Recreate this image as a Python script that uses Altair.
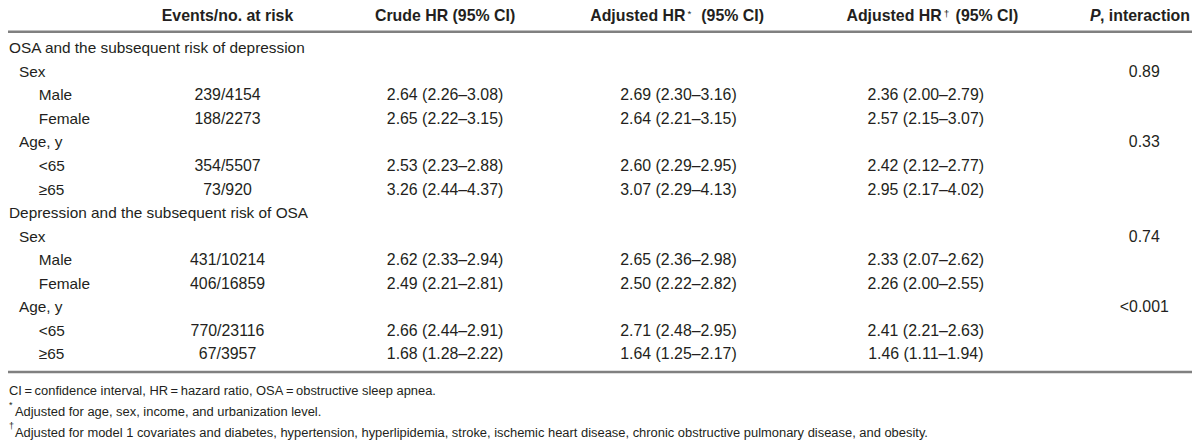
import altair as alt
import pandas as pd

# ---------------- data ----------------
row_labels = ["OSA and the subsequent risk of depression", "Sex", "Male", "Female", "Age, y", "<65", "≥65",
              "Depression and the subsequent risk of OSA", "Sex", "Male", "Female", "Age, y", "<65", "≥65"]
row_levels = [0, 1, 2, 2, 1, 2, 2, 0, 1, 2, 2, 1, 2, 2]
events = ["", "", "239/4154", "188/2273", "", "354/5507", "73/920",
          "", "", "431/10214", "406/16859", "", "770/23116", "67/3957"]
crude = ["", "", "2.64 (2.26–3.08)", "2.65 (2.22–3.15)", "", "2.53 (2.23–2.88)", "3.26 (2.44–4.37)",
         "", "", "2.62 (2.33–2.94)", "2.49 (2.21–2.81)", "", "2.66 (2.44–2.91)", "1.68 (1.28–2.22)"]
adj1 = ["", "", "2.69 (2.30–3.16)", "2.64 (2.21–3.15)", "", "2.60 (2.29–2.95)", "3.07 (2.29–4.13)",
        "", "", "2.65 (2.36–2.98)", "2.50 (2.22–2.82)", "", "2.71 (2.48–2.95)", "1.64 (1.25–2.17)"]
adj2 = ["", "", "2.36 (2.00–2.79)", "2.57 (2.15–3.07)", "", "2.42 (2.12–2.77)", "2.95 (2.17–4.02)",
        "", "", "2.33 (2.07–2.62)", "2.26 (2.00–2.55)", "", "2.41 (2.21–2.63)", "1.46 (1.11–1.94)"]
p_int = ["", "0.89", "", "", "0.33", "", "", "", "0.74", "", "", "<0.001", "", ""]

header_plain = ["Events/no. at risk", "Crude HR (95% CI)"]
header_adj_main = ["Adjusted HR", "Adjusted HR"]
header_adj_mark = ["*", "†"]
header_adj_tail = ["(95% CI)", "(95% CI)"]
header_p = ["P", ", interaction"]

footnotes = ["CI\u2009=\u2009confidence interval, HR\u2009=\u2009hazard ratio, OSA\u2009=\u2009obstructive sleep apnea.",
             "Adjusted for age, sex, income, and urbanization level.",
             "Adjusted for model 1 covariates and diabetes, hypertension, hyperlipidemia, stroke, ischemic heart disease, chronic obstructive pulmonary disease, and obesity."]
footnote_marks = ["", "*", "†"]

# ---------------- layout ----------------
FONT = "Liberation Sans"
TXT = "#231f20"
LINE = "#808080"
W, H = 1192, 436
xs = alt.Scale(domain=[8, 8 + W], range=[0, W])
ys = alt.Scale(domain=[8, 8 + H], range=[0, H])

col_x = [229, 448, 683, 932, 1152]
indent_x = [9, 19, 39]
row_y = [47 + 23.72 * i for i in range(len(row_labels))]
header_y = 15
foot_y = [392, 413, 434]

labels_df = pd.DataFrame({"x": [indent_x[l] for l in row_levels], "y": row_y, "t": row_labels})
cells = []
for ci, col in enumerate([events, crude, adj1, adj2, p_int]):
    for ri, v in enumerate(col):
        if v:
            cells.append({"x": col_x[ci], "y": row_y[ri], "t": v})
cells_df = pd.DataFrame(cells)


def txt(df, **kw):
    base = dict(font=FONT, color=TXT, baseline="middle")
    base.update(kw)
    return alt.Chart(df).mark_text(**base).encode(
        x=alt.X("x:Q", scale=xs, axis=None),
        y=alt.Y("y:Q", scale=ys, axis=None),
        text="t:N",
    )


labels = txt(labels_df, align="left", fontSize=15.5)
cells_layer = txt(cells_df, align="center", fontSize=16)

hdr_plain = txt(pd.DataFrame({"x": col_x[:2], "y": [header_y] * 2, "t": header_plain}),
                align="center", fontSize=16, fontWeight="bold")
hdr_main = txt(pd.DataFrame({"x": [690, 948], "y": [header_y] * 2, "t": header_adj_main}),
               align="right", fontSize=16, fontWeight="bold")
hdr_mark = txt(pd.DataFrame({"x": [692, 950], "y": [15.5] * 2, "t": header_adj_mark}),
               align="left", fontSize=10, fontWeight="normal", baseline="alphabetic")
hdr_tail = txt(pd.DataFrame({"x": [706, 962], "y": [header_y] * 2, "t": header_adj_tail}),
               align="left", fontSize=16, fontWeight="bold")
hdr_p1 = txt(pd.DataFrame({"x": [1108], "y": [header_y], "t": [header_p[0]]}),
             align="right", fontSize=16, fontWeight="bold", fontStyle="italic")
hdr_p2 = txt(pd.DataFrame({"x": [1198], "y": [header_y], "t": [header_p[1]]}),
             align="right", fontSize=16, fontWeight="bold")

foot_text = txt(pd.DataFrame({"x": [9, 15, 15], "y": foot_y, "t": footnotes}),
                align="left", fontSize=13)
foot_mark = txt(pd.DataFrame({"x": [9, 9], "y": [foot_y[1] - 7, foot_y[2] - 7], "t": footnote_marks[1:]}),
                align="left", fontSize=9)

rules_df = pd.DataFrame({"y": [30.5, 373]})
rules = alt.Chart(rules_df).mark_rule(color=LINE, strokeWidth=2.5).encode(
    y=alt.Y("y:Q", scale=ys, axis=None),
    x=alt.value(0),
    x2=alt.value(W),
)

chart = alt.layer(
    rules, labels, cells_layer, hdr_plain, hdr_main, hdr_mark, hdr_tail, hdr_p1, hdr_p2, foot_text, foot_mark
).properties(
    width=W, height=H, padding=0, autosize=alt.AutoSizeParams(type="none"), background="white"
).configure_view(stroke=None)

chart.save("out.html", embed_options={"renderer": "svg", "actions": False})
